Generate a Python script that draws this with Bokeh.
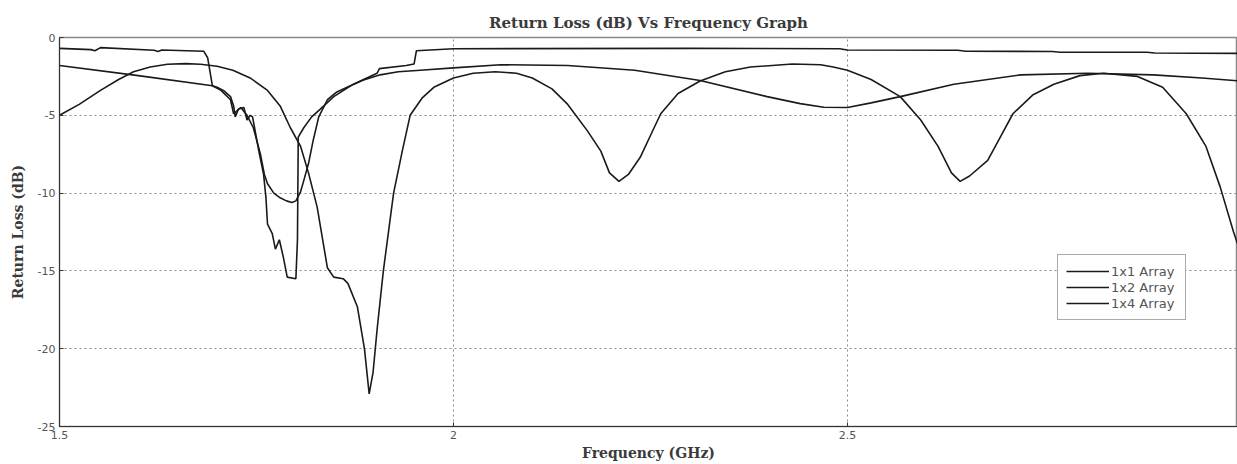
from bokeh.plotting import figure
from bokeh.models import FixedTicker, CustomJSTickFormatter, Legend, LegendItem, Range1d
from bokeh.embed import file_html
from bokeh.resources import INLINE

# ---- data ----
series_names = ["1x1 Array", "1x2 Array", "1x4 Array"]

f_1x1 = [1.500, 1.540, 1.545, 1.552, 1.620, 1.625, 1.630, 1.683, 1.688, 1.694,
         1.700, 1.708, 1.717, 1.721, 1.723, 1.727, 1.734, 1.738, 1.742, 1.745,
         1.753, 1.759, 1.762, 1.764, 1.770, 1.774, 1.779, 1.784, 1.789, 1.800,
         1.802, 1.803, 1.810, 1.820, 1.831, 1.848, 1.873, 1.903, 1.906, 1.940,
         1.950, 1.953, 2.000, 2.300, 2.490, 2.500, 2.640, 2.650, 2.760, 2.770,
         2.880, 2.890, 3.000]
rl_1x1 = [-0.70, -0.78, -0.85, -0.65, -0.82, -0.90, -0.80, -0.88, -1.30, -3.10,
          -3.20, -3.40, -3.80, -4.40, -5.10, -4.60, -4.50, -5.30, -5.00, -5.10,
          -7.30, -8.80, -10.3, -12.0, -12.6, -13.6, -13.0, -14.1, -15.4, -15.5,
          -13.0, -6.40, -5.80, -5.10, -4.60, -3.80, -3.00, -2.30, -2.00, -1.80,
          -1.70, -0.85, -0.72, -0.70, -0.72, -0.80, -0.82, -0.88, -0.90, -0.95,
          -0.95, -1.00, -1.02]

f_1x2 = [1.500, 1.600, 1.694, 1.705, 1.717, 1.721, 1.730, 1.738, 1.746, 1.755,
         1.760, 1.764, 1.772, 1.780, 1.788, 1.795, 1.800, 1.806, 1.810, 1.816,
         1.822, 1.829, 1.840, 1.852, 1.865, 1.885, 1.907, 1.930, 1.958, 2.000,
         2.060, 2.145, 2.230, 2.313, 2.398, 2.440, 2.470, 2.500, 2.530, 2.567,
         2.635, 2.720, 2.805, 2.888, 2.950, 3.000]
rl_1x2 = [-1.80, -2.45, -3.10, -3.40, -4.00, -4.90, -4.50, -5.00, -5.80, -7.50,
          -8.80, -9.40, -10.0, -10.3, -10.5, -10.6, -10.5, -9.90, -9.20, -8.10,
          -6.60, -5.10, -4.00, -3.50, -3.20, -2.75, -2.40, -2.20, -2.10, -1.95,
          -1.75, -1.80, -2.10, -2.76, -3.80, -4.25, -4.48, -4.50, -4.20, -3.80,
          -3.00, -2.40, -2.30, -2.40, -2.60, -2.80]

f_1x4 = [1.500, 1.525, 1.552, 1.575, 1.594, 1.615, 1.637, 1.660, 1.679, 1.700,
         1.720, 1.742, 1.764, 1.780, 1.793, 1.806, 1.816, 1.827, 1.840, 1.848,
         1.860, 1.866, 1.878, 1.887, 1.893, 1.898, 1.903, 1.911, 1.924, 1.935,
         1.945, 1.960, 1.975, 2.000, 2.025, 2.053, 2.080, 2.100, 2.125, 2.145,
         2.170, 2.187, 2.198, 2.210, 2.222, 2.237, 2.250, 2.263, 2.285, 2.313,
         2.345, 2.377, 2.430, 2.466, 2.482, 2.500, 2.530, 2.567, 2.593, 2.615,
         2.632, 2.643, 2.655, 2.678, 2.695, 2.710, 2.735, 2.762, 2.795, 2.825,
         2.868, 2.900, 2.930, 2.955, 2.973, 2.990, 3.000]
rl_1x4 = [-5.00, -4.30, -3.40, -2.70, -2.20, -1.90, -1.72, -1.68, -1.72, -1.85,
          -2.10, -2.60, -3.40, -4.40, -5.80, -7.00, -8.70, -10.9, -14.8, -15.4,
          -15.5, -15.8, -17.3, -20.0, -22.9, -21.5, -18.8, -15.0, -10.0, -7.30,
          -5.00, -3.90, -3.20, -2.60, -2.30, -2.20, -2.30, -2.60, -3.30, -4.30,
          -6.00, -7.30, -8.70, -9.25, -8.80, -7.70, -6.30, -4.90, -3.60, -2.80,
          -2.20, -1.90, -1.70, -1.75, -1.90, -2.10, -2.70, -3.80, -5.30, -7.00,
          -8.70, -9.25, -8.90, -7.90, -6.30, -4.90, -3.70, -3.00, -2.45, -2.30,
          -2.50, -3.20, -4.90, -7.00, -9.60, -12.5, -14.0]

x_ticks = [1.5, 2, 2.5, 3]
y_ticks = [-25, -20, -15, -10, -5, 0]

# ---- figure ----
p = figure(width=1237, height=464, output_backend="svg", toolbar_location=None,
           x_range=Range1d(1.5, 2.995), y_range=Range1d(-25, 0),
           min_border_left=59, min_border_right=0, min_border_top=37,
           min_border_bottom=38, title="Return Loss (dB) Vs Frequency Graph")

p.title.align = "center"
p.title.text_font = "DejaVu Serif"
p.title.text_font_size = "15px"
p.title.text_font_style = "bold"
p.title.text_color = "#3a3a3a"
p.title.standoff = 12

fmt = CustomJSTickFormatter(code="return String(tick);")
p.xaxis.ticker = FixedTicker(ticks=x_ticks)
p.yaxis.ticker = FixedTicker(ticks=y_ticks)
p.xaxis.formatter = fmt
p.yaxis.formatter = fmt

for ax in (p.xaxis, p.yaxis):
    ax.major_tick_in = 4
    ax.major_tick_out = 0
    ax.minor_tick_line_color = None
    ax.axis_line_color = "#333333"
    ax.major_tick_line_color = "#333333"
    ax.major_label_text_font = "DejaVu Sans"
    ax.major_label_text_font_size = "11px"
    ax.major_label_text_color = "#555555"
    ax.major_label_standoff = 4
    ax.axis_label_text_font = "DejaVu Serif"
    ax.axis_label_text_font_size = "14px"
    ax.axis_label_text_font_style = "bold"
    ax.axis_label_text_color = "#3a3a3a"

p.xaxis.axis_label = "Frequency (GHz)"
p.yaxis.axis_label = "Return Loss (dB)"
p.xaxis.axis_label_standoff = 3
p.yaxis.axis_label_standoff = 9

for g in (p.xgrid, p.ygrid):
    g.grid_line_color = "#888888"
    g.grid_line_dash = "2 3"
    g.grid_line_width = 1

p.outline_line_color = "#888888"
p.outline_line_width = 1.5
p.background_fill_color = "white"
p.border_fill_color = "white"

r1 = p.line(f_1x1, rl_1x1, line_color="#1a1a1a", line_width=1.6)
r2 = p.line(f_1x2, rl_1x2, line_color="#1a1a1a", line_width=1.6)
r3 = p.line(f_1x4, rl_1x4, line_color="#1a1a1a", line_width=1.6)

legend = Legend(items=[LegendItem(label=series_names[0], renderers=[r1]),
                       LegendItem(label=series_names[1], renderers=[r2]),
                       LegendItem(label=series_names[2], renderers=[r3])],
                location=(998, 106))
legend.border_line_color = "#555555"
legend.border_line_width = 1
legend.background_fill_color = "white"
legend.background_fill_alpha = 1
legend.label_text_font = "DejaVu Sans"
legend.label_text_font_size = "13px"
legend.label_text_color = "#555555"
legend.glyph_width = 43
legend.glyph_height = 16
legend.label_height = 16
legend.label_width = 66
legend.label_standoff = 2
legend.padding = 8
legend.spacing = 0
legend.margin = 0
p.add_layout(legend)

open("out.html", "w").write(file_html(p, INLINE))
